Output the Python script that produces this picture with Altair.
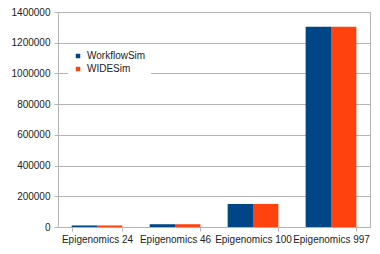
import altair as alt
import pandas as pd

categories = ["Epigenomics 24", "Epigenomics 46", "Epigenomics 100", "Epigenomics 997"]
series = ["WorkflowSim", "WIDESim"]
workflowsim = [10000, 18000, 150000, 1304000]
widesim = [10000, 18000, 150000, 1304000]
colors = ["#004586", "#ff420e"]

rows = []
for c, a, b in zip(categories, workflowsim, widesim):
    rows.append({"cat": c, "series": "WorkflowSim", "value": a})
    rows.append({"cat": c, "series": "WIDESim", "value": b})
df = pd.DataFrame(rows)

grid = "#b3b3b3"
font = "Liberation Sans"

chart = alt.Chart(df).mark_bar().encode(
    x=alt.X("cat:N", sort=categories, title=None,
            scale=alt.Scale(paddingInner=0.35, paddingOuter=0.175),
            axis=alt.Axis(labelAngle=0, tickBand="extent", tickSize=4, tickColor=grid,
                          domainColor=grid, labelPadding=3, labelFontSize=10,
                          labelFont=font, labelColor="#222222", grid=False)),
    xOffset=alt.XOffset("series:N", sort=series,
                        scale=alt.Scale(paddingInner=0, paddingOuter=0)),
    y=alt.Y("value:Q", title=None,
            scale=alt.Scale(domain=[0, 1400000], nice=False),
            axis=alt.Axis(values=list(range(0, 1400001, 200000)), format="d",
                          tickSize=4, tickColor=grid, gridColor=grid, domainColor=grid,
                          labelPadding=4, labelFontSize=10, labelFont=font,
                          labelColor="#222222")),
    color=alt.Color("series:N", sort=series,
                    scale=alt.Scale(domain=series, range=colors),
                    legend=alt.Legend(title=None, orient="none", legendX=10, legendY=34,
                                      fillColor="white", padding=5, symbolType="square",
                                      symbolSize=20, symbolStrokeWidth=0, labelFontSize=10,
                                      labelFont=font, labelColor="#222222", rowPadding=3,
                                      labelOffset=4)),
).properties(
    width=312, height=215,
    autosize=alt.AutoSizeParams(type="none"),
    padding={"left": 50, "top": 4, "right": 2, "bottom": 19},
).configure_view(stroke=grid)

chart.save("out.html", embed_options={"renderer": "svg", "actions": False})
